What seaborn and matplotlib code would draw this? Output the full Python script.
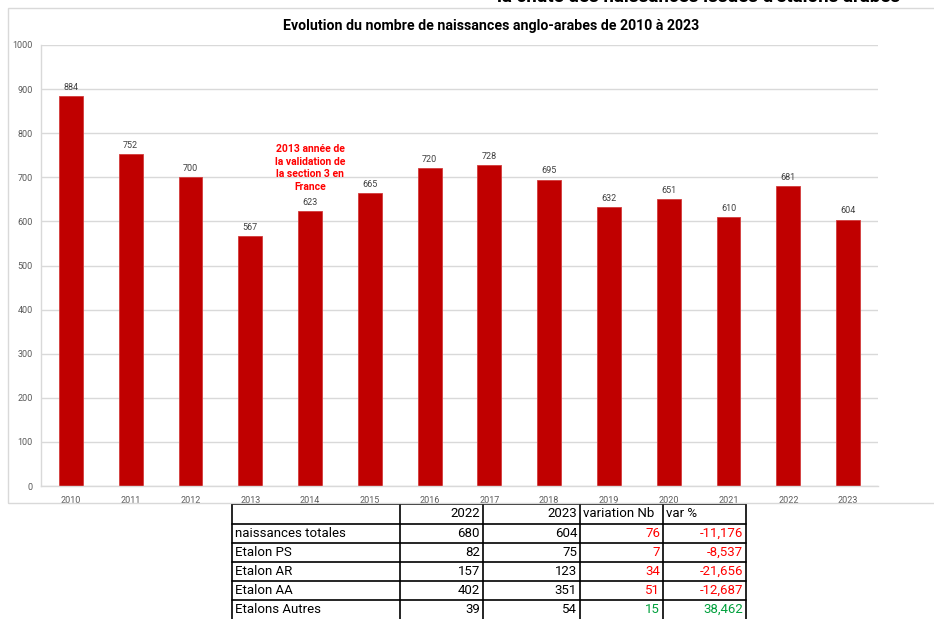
import matplotlib
matplotlib.use("Agg")
import matplotlib.pyplot as plt
import seaborn as sns
import pandas as pd
from matplotlib.patches import Rectangle

# données du graphique
years = [str(y) for y in range(2010, 2024)]
births = [884, 752, 700, 567, 623, 665, 720, 728, 695, 632, 651, 610, 681, 604]

# données du tableau
row_labels = ["naissances totales", "Etalon PS", "Etalon AR", "Etalon AA", "Etalons Autres"]
col_headers = ["", "2022", "2023", "variation Nb", "var %"]
val_2022 = [680, 82, 157, 402, 39]
val_2023 = [604, 75, 123, 351, 54]
var_nb = [76, 7, 34, 51, 15]
var_pct = ["-11,176", "-8,537", "-21,656", "-12,687", "38,462"]

sns.set_style("white")
plt.rcParams["font.family"] = ["Roboto", "DejaVu Sans"]

W, H = 934, 619
fig = plt.figure(figsize=(W / 100, H / 100), dpi=100)

def fx(px):
    return px / W

def fy(py):
    return 1 - py / H

# cadre du graphique
fig.patches.append(Rectangle((fx(8), fy(503)), fx(940) - fx(8), fy(8) - fy(503),
                             transform=fig.transFigure, fill=False,
                             edgecolor="#d9d9d9", linewidth=1))

# titre coupé en haut (comme dans la capture)
fig.text(fx(497), fy(-3), "la chute des naissances issues d'étalons arabes",
         fontsize=13.5, fontweight="bold", ha="left", va="center", color="black")

ax = fig.add_axes([fx(41), fy(486), fx(878) - fx(41), fy(45) - fy(486)])
df = pd.DataFrame({"year": years, "births": births})
sns.barplot(data=df, x="year", y="births", color="#c00000", saturation=1,
            width=0.4, ax=ax, edgecolor="#d23c3c", linewidth=0.6)
ax.set_xlim(-0.5, len(years) - 0.5)
ax.set_ylim(0, 1000)
ax.set_yticks(range(0, 1001, 100))
ax.yaxis.grid(True, color="#d9d9d9", linewidth=1)
ax.set_axisbelow(True)
ax.set_xlabel("")
ax.set_ylabel("")
for s in ["top", "right"]:
    ax.spines[s].set_visible(False)
for s in ["left", "bottom"]:
    ax.spines[s].set_color("#d9d9d9")
    ax.spines[s].set_linewidth(1)
ax.tick_params(axis="both", length=0, labelsize=6.5, labelcolor="#595959")
ax.tick_params(axis="y", pad=6)
ax.tick_params(axis="x", pad=7)

ax.bar_label(ax.containers[0], labels=[str(v) for v in births], padding=3,
             fontsize=6.5, color="#404040")

ax.text(4, 721, "2013 année de\nla validation de\nla section 3 en\nFrance",
        ha="center", va="center", color="#ff0000", fontsize=7.5,
        fontweight="bold", linespacing=1.35)

fig.text(fx(491), fy(26), "Evolution du nombre de naissances anglo-arabes de 2010 à 2023",
         ha="center", va="center", fontsize=10.2, fontweight="bold", color="black")

# tableau
col_x = [232, 400, 483, 580, 663, 746]
row_y = [504, 523.5, 543, 562, 581, 600, 619.5]
tax = fig.add_axes([0, 0, 1, 1])
tax.set_xlim(0, W)
tax.set_ylim(H, 0)
tax.axis("off")
for x in col_x:
    tax.plot([x, x], [row_y[0], H + 2], color="black", linewidth=1.2)
for y in row_y:
    tax.plot([col_x[0], col_x[-1]], [y, y], color="black", linewidth=1.2)

rows = [col_headers] + [[row_labels[i], str(val_2022[i]), str(val_2023[i]),
                         str(var_nb[i]), var_pct[i]] for i in range(len(row_labels))]
for r, row in enumerate(rows):
    yc = (row_y[r] + row_y[r + 1]) / 2
    for c, txt in enumerate(row):
        color = "black"
        if r > 0 and c >= 3:
            color = "#00a03c" if r == 5 else "#ff0000"
        left = c == 0 or (r == 0 and c >= 3)
        if left:
            tax.text(col_x[c] + 3, yc, txt, ha="left", va="center", fontsize=9.5, color=color)
        else:
            tax.text(col_x[c + 1] - 3, yc, txt, ha="right", va="center", fontsize=9.5, color=color)

fig.savefig("out.png", dpi=100)
plt.close()
